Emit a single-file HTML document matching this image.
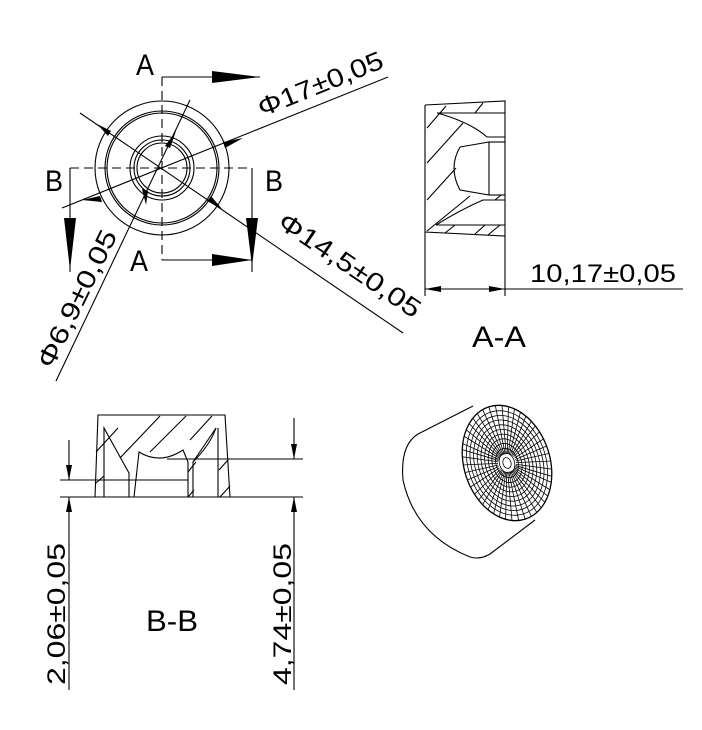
<!DOCTYPE html>
<html><head><meta charset="utf-8"><style>
html,body{margin:0;padding:0;background:#fff;}
svg{display:block}
text{font-family:"Liberation Sans",sans-serif;fill:#000;font-weight:normal}
</style></head><body>
<svg width="702" height="730" viewBox="0 0 702 730" xmlns="http://www.w3.org/2000/svg">
<defs>
<clipPath id="fc"><ellipse cx="0" cy="0" rx="43" ry="59"/></clipPath>
</defs>
<g stroke="#000" stroke-width="1.1" fill="none">
<circle cx="162" cy="168" r="67"/>
<circle cx="162" cy="168" r="57"/>
<circle cx="162" cy="168" r="55"/>
<circle cx="162" cy="168" r="32"/>
<circle cx="162" cy="168" r="28"/>
<circle cx="162" cy="168" r="25"/>
<line x1="162" y1="77" x2="162" y2="260" stroke-dasharray="9,5"/>
<line x1="70" y1="168" x2="252" y2="168" stroke-dasharray="9,5"/>
<polyline points="162,77 260,77"/>
<polyline points="162,260 252,260"/>
<polyline points="70,168 70,272"/>
<polyline points="252,168 252,272"/>
<line x1="62" y1="208" x2="388" y2="77"/>
<line x1="80" y1="113" x2="403" y2="333"/>
<line x1="56" y1="381" x2="190" y2="100"/>
<polyline points="425,105 505,101 505,236 425,232 425,105"/>
<line x1="425" y1="232" x2="425" y2="296"/>
<line x1="505" y1="236" x2="505" y2="296"/>
<line x1="425" y1="289" x2="683" y2="289"/>
<line x1="437" y1="113" x2="505" y2="113"/>
<path d="M437,113 Q470,122 487,137 L505,137"/>
<path d="M460,147 L489,142 L489,195 L460,190 Q448,168 460,147"/>
<line x1="489" y1="142" x2="505" y2="142"/>
<line x1="489" y1="195" x2="505" y2="195"/>
<path d="M436,225 Q460,210 483,200 L505,200"/>
<line x1="436" y1="225" x2="505" y2="225"/>
<line x1="427" y1="128" x2="446" y2="106"/>
<line x1="427" y1="163" x2="463" y2="123"/>
<line x1="427" y1="200" x2="456" y2="168"/>
<line x1="427" y1="231" x2="470" y2="196"/>
<line x1="445" y1="233" x2="455" y2="225"/>
<line x1="475" y1="234" x2="485" y2="225"/>
<line x1="488" y1="235" x2="500" y2="225"/>
<line x1="475" y1="113" x2="483" y2="103"/>
<line x1="495" y1="200" x2="501" y2="195"/>
<polyline points="95,497 98,415 225,415 230,497"/>
<line x1="60" y1="497" x2="303" y2="497"/>
<line x1="60" y1="480" x2="188" y2="480"/>
<line x1="167" y1="459" x2="303" y2="459"/>
<polyline points="104,497 104,428 129,473 129,497"/>
<path d="M134,497 L139,452 Q160,465 183,450 L188,462 L188,497"/>
<path d="M193,497 L193,462 Q210,445 216,428"/>
<polyline points="193,462 216,428"/>
<line x1="218" y1="428" x2="218" y2="497"/>
<line x1="96" y1="452" x2="118" y2="428"/>
<line x1="120" y1="458" x2="160" y2="416"/>
<line x1="150" y1="452" x2="186" y2="416"/>
<line x1="190" y1="440" x2="212" y2="416"/>
<line x1="96" y1="483" x2="104" y2="476"/>
<line x1="188" y1="472" x2="196" y2="462"/>
<line x1="219" y1="470" x2="228" y2="460"/>
<line x1="220" y1="497" x2="230" y2="486"/>
<line x1="188" y1="497" x2="194" y2="490"/>
<line x1="69" y1="440" x2="69" y2="480"/>
<line x1="69" y1="497" x2="69" y2="690"/>
<line x1="294" y1="418" x2="294" y2="459"/>
<line x1="294" y1="497" x2="294" y2="690"/>
<path d="M473,406 L418,434 Q400,445 403,480 Q415,535 470,557 Q480,560 490,554 L535,520"/>
<g transform="translate(507,463) rotate(-18)">
<g clip-path="url(#fc)" stroke-width="0.8">
<ellipse rx="4" ry="5.5"/><ellipse rx="7.5" ry="10.3"/><ellipse rx="11" ry="15"/><ellipse rx="14.5" ry="20"/><ellipse rx="18" ry="24.7"/><ellipse rx="21.5" ry="29.5"/><ellipse rx="25" ry="34.3"/><ellipse rx="28.5" ry="39"/><ellipse rx="32" ry="44"/><ellipse rx="35.5" ry="48.7"/><ellipse rx="39" ry="53.5"/>
<g stroke-dasharray="0,9,200">
<path d="M0,0 L0,-70 M0,0 L8,-70 M0,0 L16,-69 M0,0 L24,-68 M0,0 L32,-66 M0,0 L40,-62 M0,0 L47,-56 M0,0 L54,-48 M0,0 L58,-40 M0,0 L62,-30 M0,0 L65,-18 M0,0 L66,-6 M0,0 L66,6 M0,0 L65,18 M0,0 L62,30 M0,0 L58,40 M0,0 L54,48 M0,0 L47,56 M0,0 L40,62 M0,0 L32,66 M0,0 L24,68 M0,0 L16,69 M0,0 L8,70 M0,0 L0,70 M0,0 L-8,70 M0,0 L-16,69 M0,0 L-24,68 M0,0 L-32,66 M0,0 L-40,62 M0,0 L-47,56 M0,0 L-54,48 M0,0 L-58,40 M0,0 L-62,30 M0,0 L-65,18 M0,0 L-66,6 M0,0 L-66,-6 M0,0 L-65,-18 M0,0 L-62,-30 M0,0 L-58,-40 M0,0 L-54,-48 M0,0 L-47,-56 M0,0 L-40,-62 M0,0 L-32,-66 M0,0 L-24,-68 M0,0 L-16,-69 M0,0 L-8,-70"/>
</g>
</g>
<ellipse cx="0" cy="0" rx="43" ry="59" stroke-width="1.3"/>
</g>
</g>
<g fill="#000" stroke="none">
<polygon points="212,71 260,77 212,83"/>
<polygon points="212,254 252,260 212,266"/>
<polygon points="64,218 70,270 76,218"/>
<polygon points="246,218 252,266 258,218"/>
<polygon points="82,200 100,196 102,202"/>
<polygon points="243,138 225,148 223,142"/>
<polygon points="97,124 111,131 108,136"/>
<polygon points="222,209 207,201 211,196"/>
<polygon points="176,131 170,148 165,146"/>
<polygon points="146,205 142,189 148,191"/>
<polygon points="425,289 441,286 441,292"/>
<polygon points="505,289 489,286 489,292"/>
<polygon points="66,465 69,480 72,465"/>
<polygon points="66,512 69,497 72,512"/>
<polygon points="291,444 294,459 297,444"/>
<polygon points="291,512 294,497 297,512"/>
</g>
<g font-size="26">
<text x="136" y="75" font-size="30" textLength="18" lengthAdjust="spacingAndGlyphs">A</text>
<text x="130" y="271" font-size="30" textLength="18" lengthAdjust="spacingAndGlyphs">A</text>
<text x="45" y="191" font-size="30" textLength="18" lengthAdjust="spacingAndGlyphs">B</text>
<text x="265" y="191" font-size="30" textLength="18" lengthAdjust="spacingAndGlyphs">B</text>
<text transform="translate(262,117) rotate(-22)" textLength="133" lengthAdjust="spacingAndGlyphs">Φ17±0,05</text>
<text transform="translate(276,226) rotate(34)" textLength="166" lengthAdjust="spacingAndGlyphs">Φ14,5±0,05</text>
<text transform="translate(52,370) rotate(-64)" textLength="150" lengthAdjust="spacingAndGlyphs">Φ6,9±0,05</text>
<text x="530" y="282" font-size="25" textLength="146" lengthAdjust="spacingAndGlyphs">10,17±0,05</text>
<text x="472" y="347" font-size="30" textLength="54" lengthAdjust="spacingAndGlyphs">A-A</text>
<text x="146" y="631" font-size="30" textLength="52" lengthAdjust="spacingAndGlyphs">B-B</text>
<text transform="translate(65,685) rotate(-90)" font-size="25" textLength="142" lengthAdjust="spacingAndGlyphs">2,06±0,05</text>
<text transform="translate(291,685) rotate(-90)" font-size="25" textLength="142" lengthAdjust="spacingAndGlyphs">4,74±0,05</text>
</g>
</svg>
</body></html>
